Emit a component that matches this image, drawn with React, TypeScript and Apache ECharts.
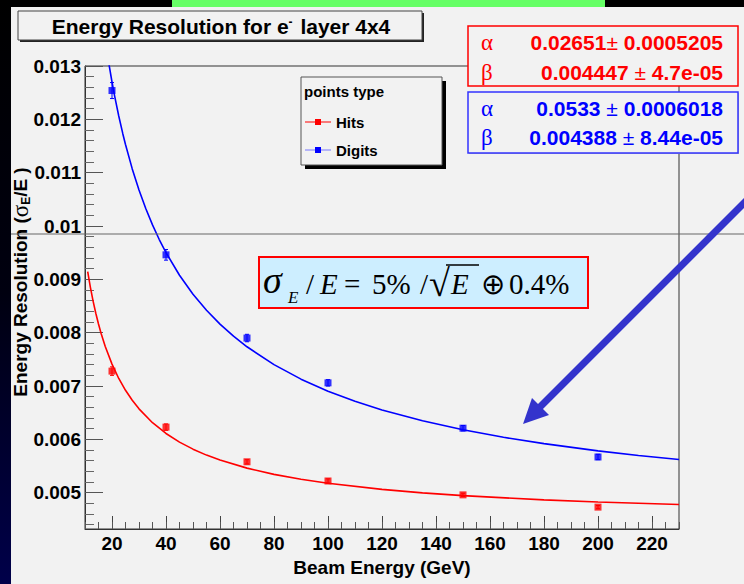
import React, { useEffect, useRef } from 'react';
import * as echarts from 'echarts';

// ---- data ----
const X_TICKS = [20, 40, 60, 80, 100, 120, 140, 160, 180, 200, 220];
const Y_TICKS = [0.005, 0.006, 0.007, 0.008, 0.009, 0.01, 0.011, 0.012, 0.013];
const Y_MINOR = [0.0044, 0.0046, 0.0048, 0.0052, 0.0054, 0.0056, 0.0058, 0.0062, 0.0064, 0.0066, 0.0068,
  0.0072, 0.0074, 0.0076, 0.0078, 0.0082, 0.0084, 0.0086, 0.0088, 0.0092, 0.0094, 0.0096, 0.0098,
  0.0102, 0.0104, 0.0106, 0.0108, 0.0112, 0.0114, 0.0116, 0.0118, 0.0122, 0.0124, 0.0126, 0.0128];

const ENERGY = [20, 40, 70, 100, 150, 200];
const HITS = [0.00728, 0.00623, 0.00558, 0.00522, 0.00496, 0.00473];
const HITS_ERR = [0.00008, 0.00006, 0.00004, 0.00004, 0.00003, 0.00003];
const DIGITS = [0.01254, 0.00946, 0.0079, 0.00706, 0.00621, 0.00567];
const DIGITS_ERR = [0.00015, 0.0001, 0.00007, 0.00006, 0.00005, 0.00005];

// fitted curves
const HITS_FIT_E = [11, 12, 13, 14, 15, 16, 17.5, 20, 22.5, 25, 27.5, 30, 35, 40, 45, 50, 55, 60, 70, 80, 90,
  100, 120, 135, 150, 180, 200, 230];
const HITS_FIT = [0.009147, 0.008851, 0.008593, 0.008365, 0.008163, 0.007981, 0.007742, 0.007411, 0.007142,
  0.00692, 0.006733, 0.006573, 0.006313, 0.006111, 0.005949, 0.005817, 0.005705, 0.005612, 0.005461, 0.005344,
  0.005252, 0.005177, 0.005063, 0.004998, 0.004946, 0.004866, 0.004826, 0.004778];
const DIGITS_FIT_E = [17.5, 18.5, 20, 21, 22.5, 24, 25, 27.5, 30, 32.5, 35, 37.5, 40, 45, 50, 55, 60, 65, 70, 80,
  90, 100, 110, 120, 135, 150, 165, 180, 200, 215, 230];
const DIGITS_FIT = [0.013476, 0.013146, 0.0127, 0.012431, 0.012063, 0.011731, 0.011528, 0.011071, 0.010675,
  0.010328, 0.010021, 0.009747, 0.009502, 0.009077, 0.008722, 0.008421, 0.008161, 0.007935, 0.007736, 0.007401,
  0.007129, 0.006904, 0.006714, 0.006552, 0.006348, 0.00618, 0.006039, 0.00592, 0.005785, 0.005699, 0.005622];

const TITLE = 'Energy Resolution for e';
const TITLE_TAIL = ' layer 4x4';
const X_NAME = 'Beam Energy (GeV)';
const STATS_HITS = [['0.02651', '±', ' 0.0005205'], ['0.004447', ' ± ', '4.7e-05']];
const STATS_DIGITS = [['0.0533', ' ± ', '0.0006018'], ['0.004388', ' ± ', '8.44e-05']];

const SANS = '"Liberation Sans", Arial, Helvetica, sans-serif';
const SERIF = '"Liberation Serif", "Times New Roman", serif';
const RED = '#ff0000';
const BLUE = '#0000ff';

function errItem(color: string) {
  return (params: any, api: any) => {
    const x = api.value(0);
    const y = api.value(1);
    const e = api.value(2);
    const t = api.coord([x, y + e]);
    const b = api.coord([x, y - e]);
    const st = { stroke: color, lineWidth: 1 };
    return {
      type: 'group',
      children: [
        { type: 'line', shape: { x1: t[0], y1: t[1], x2: b[0], y2: b[1] }, style: st },
        { type: 'line', shape: { x1: t[0] - 2, y1: t[1], x2: t[0] + 2, y2: t[1] }, style: st },
        { type: 'line', shape: { x1: b[0] - 2, y1: b[1], x2: b[0] + 2, y2: b[1] }, style: st },
      ],
    };
  };
}

function fmt(v: number) {
  return String(parseFloat(v.toFixed(4)));
}

function statsRows(rows: string[][], color: string, y0: number, dy: number, syms: string[]) {
  const els: any[] = [];
  rows.forEach((r, i) => {
    els.push({
      type: 'text', x: 481, y: y0 + i * dy, z: 110,
      style: { text: syms[i], font: `23px ${SERIF}`, fill: color, verticalAlign: 'middle', align: 'left' },
    });
    els.push({
      type: 'text', x: 723, y: y0 + i * dy, z: 110,
      style: {
        text: `{v|${r[0]}}{p|${r[1]}}{v|${r[2]}}`,
        align: 'right', verticalAlign: 'middle',
        rich: {
          v: { fontFamily: SANS, fontWeight: 'bold', fontSize: 21, fill: color },
          p: { fontFamily: SANS, fontWeight: 'normal', fontSize: 21, fill: color },
        },
      },
    });
  });
  return els;
}

function formula() {
  const base = { fill: '#000', verticalAlign: 'middle', align: 'left' };
  const pieces: [string, number, number, number, boolean][] = [
    ['σ', 263, 280, 38, true],
    ['E', 288, 297, 17, true],
    ['/', 306, 284, 29, false],
    ['E', 320, 284, 29, true],
    ['=', 344, 284, 29, false],
    ['5%', 372, 284, 29, false],
    ['/', 420, 284, 29, false],
    ['√', 429, 283, 38, false],
    ['E', 451, 284, 29, true],
    ['⊕', 481, 284, 29, false],
    ['0.4%', 509, 284, 29, false],
  ];
  const els: any[] = pieces.map(([t, x, y, s, it]) => ({
    type: 'text', x, y, z: 110,
    style: { ...base, text: t, font: `${it ? 'italic ' : ''}${s}px ${SERIF}` },
  }));
  els.push({ type: 'line', z: 110, shape: { x1: 446, y1: 265, x2: 479, y2: 265 }, style: { stroke: '#000', lineWidth: 1.3 } });
  return els;
}

export default function App() {
  const ref = useRef<HTMLDivElement>(null);
  useEffect(() => {
    document.body.style.margin = '0';
    const chart = echarts.init(ref.current!, null, { renderer: 'svg' });
    const option: any = {
      animation: false,
      backgroundColor: '#f2f2f2',
      grid: {
        left: 85, top: 66, width: 594, height: 463, show: true,
        borderColor: '#333', borderWidth: 1, backgroundColor: 'transparent',
        containLabel: false, outerBoundsMode: 'none',
      },
      xAxis: [
        {
          type: 'value', min: 10, max: 230, position: 'bottom',
          axisLine: { show: true, onZero: false, lineStyle: { color: '#333' } },
          axisTick: { show: true, inside: true, length: 13, customValues: X_TICKS, lineStyle: { color: '#444' } },
          axisLabel: { customValues: X_TICKS, margin: 5, fontFamily: SANS, fontWeight: 'bold', fontSize: 19, color: '#000' },
          splitLine: { show: false },
          name: X_NAME, nameLocation: 'middle', nameGap: 27,
          nameTextStyle: { fontFamily: SANS, fontWeight: 'bold', fontSize: 19, color: '#000' },
        },
        {
          type: 'value', min: 10, max: 230, interval: 5, position: 'bottom',
          axisLine: { show: false, onZero: false },
          axisTick: { show: true, inside: true, length: 7, lineStyle: { color: '#555' } },
          axisLabel: { show: false }, splitLine: { show: false },
        },
      ],
      yAxis: [
        {
          type: 'value', min: 0.00432, max: 0.013, position: 'left',
          axisLine: { show: true, onZero: false, lineStyle: { color: '#333' } },
          axisTick: { show: true, inside: true, length: 18, customValues: Y_TICKS, lineStyle: { color: '#555' } },
          axisLabel: {
            customValues: Y_TICKS, margin: 4, fontFamily: SANS, fontWeight: 'bold', fontSize: 19, color: '#000',
            formatter: (v: number) => fmt(v),
          },
          splitLine: { show: false },
        },
        {
          type: 'value', min: 0.00432, max: 0.013, position: 'left',
          axisLine: { show: false, onZero: false },
          axisTick: { show: true, inside: true, length: 9, customValues: Y_MINOR, lineStyle: { color: '#666' } },
          axisLabel: { show: false }, splitLine: { show: false },
        },
      ],
      series: [
        {
          name: 'Hits fit', type: 'line', smooth: false, symbol: 'none', silent: true, z: 3,
          data: HITS_FIT_E.map((e, i) => [e, HITS_FIT[i]]), lineStyle: { color: RED, width: 1.6 },
        },
        {
          name: 'Digits fit', type: 'line', smooth: false, symbol: 'none', silent: true, z: 3,
          data: DIGITS_FIT_E.map((e, i) => [e, DIGITS_FIT[i]]), lineStyle: { color: BLUE, width: 1.6 },
        },
        {
          name: 'Hits err', type: 'custom', z: 4, renderItem: errItem(RED),
          data: ENERGY.map((e, i) => [e, HITS[i], HITS_ERR[i]]),
        },
        {
          name: 'Digits err', type: 'custom', z: 4, renderItem: errItem(BLUE),
          data: ENERGY.map((e, i) => [e, DIGITS[i], DIGITS_ERR[i]]),
        },
        {
          name: 'Hits', type: 'scatter', symbol: 'rect', symbolSize: 7, z: 5,
          itemStyle: { color: RED }, data: ENERGY.map((e, i) => [e, HITS[i]]),
        },
        {
          name: 'Digits', type: 'scatter', symbol: 'rect', symbolSize: 7, z: 5,
          itemStyle: { color: BLUE }, data: ENERGY.map((e, i) => [e, DIGITS[i]]),
        },
      ],
      graphic: [
        // slide background bits
        { type: 'rect', z: 1, shape: { x: 0, y: 0, width: 744, height: 7 }, style: { fill: '#000' } },
        { type: 'rect', z: 2, shape: { x: 172, y: 0, width: 433, height: 7 }, style: { fill: '#66ff66' } },
        {
          type: 'rect', z: 1, shape: { x: 0, y: 0, width: 11, height: 584 },
          style: {
            fill: new echarts.graphic.LinearGradient(0, 0, 0, 1, [
              { offset: 0, color: '#000000' }, { offset: 0.5, color: '#000010' }, { offset: 1, color: '#00004a' },
            ]),
          },
        },
        { type: 'line', z: 60, shape: { x1: 11, y1: 234, x2: 744, y2: 234 }, style: { stroke: '#666', lineWidth: 1 } },
        // title box
        { type: 'rect', z: 100, shape: { x: 20, y: 13, width: 404, height: 29 }, style: { fill: '#222' } },
        { type: 'rect', z: 101, shape: { x: 18, y: 11, width: 404, height: 29 }, style: { fill: '#f2f2f2', stroke: '#444', lineWidth: 1 } },
        {
          type: 'text', x: 221, y: 26, z: 102,
          style: {
            text: `{t|${TITLE}}{s|-}{t|${TITLE_TAIL}}`, align: 'center', verticalAlign: 'middle',
            rich: {
              t: { fontFamily: SANS, fontWeight: 'bold', fontSize: 21, fill: '#000' },
              s: { fontFamily: SANS, fontWeight: 'bold', fontSize: 12, fill: '#000', verticalAlign: 'top', padding: [0, 2, 8, 0] },
            },
          },
        },
        // y axis title
        {
          type: 'text', x: 20, y: 282, rotation: Math.PI / 2, z: 50,
          style: {
            text: '{t|Energy Resolution (}{g|σ}{s|E}{t|/E )}', align: 'center', verticalAlign: 'middle',
            rich: {
              t: { fontFamily: SANS, fontWeight: 'bold', fontSize: 19, fill: '#000' },
              g: { fontFamily: SERIF, fontSize: 23, fill: '#000' },
              s: { fontFamily: SANS, fontWeight: 'bold', fontSize: 12, fill: '#000', verticalAlign: 'bottom', padding: [8, 0, 0, 0] },
            },
          },
        },
        // legend
        { type: 'rect', z: 100, shape: { x: 305, y: 81, width: 141, height: 88 }, style: { fill: '#000' } },
        { type: 'rect', z: 101, shape: { x: 301, y: 77, width: 141, height: 88 }, style: { fill: '#f2f2f2', stroke: '#555', lineWidth: 1 } },
        { type: 'text', x: 304, y: 91, z: 102, style: { text: 'points type', font: `bold 15px ${SANS}`, fill: '#000', verticalAlign: 'middle' } },
        { type: 'line', z: 102, shape: { x1: 305, y1: 122, x2: 331, y2: 122 }, style: { stroke: RED, lineWidth: 1 } },
        { type: 'rect', z: 103, shape: { x: 315, y: 119, width: 6, height: 6 }, style: { fill: RED } },
        { type: 'text', x: 336, y: 122, z: 102, style: { text: 'Hits', font: `bold 15px ${SANS}`, fill: '#000', verticalAlign: 'middle' } },
        { type: 'line', z: 102, shape: { x1: 305, y1: 150, x2: 331, y2: 150 }, style: { stroke: '#7777ff', lineWidth: 1 } },
        { type: 'rect', z: 103, shape: { x: 315, y: 147, width: 6, height: 6 }, style: { fill: BLUE } },
        { type: 'text', x: 336, y: 150, z: 102, style: { text: 'Digits', font: `bold 15px ${SANS}`, fill: '#000', verticalAlign: 'middle' } },
        // stats boxes
        { type: 'rect', z: 100, shape: { x: 468, y: 26, width: 270, height: 60 }, style: { fill: '#f2f2f2', stroke: RED, lineWidth: 1.5 } },
        { type: 'rect', z: 100, shape: { x: 469, y: 93, width: 270, height: 61 }, style: { fill: '#bbb' } },
        { type: 'rect', z: 101, shape: { x: 468, y: 92, width: 270, height: 61 }, style: { fill: '#f2f2f2', stroke: '#3333ff', lineWidth: 1.5 } },
        ...statsRows(STATS_HITS, RED, 42, 30, ['α', 'β']),
        ...statsRows(STATS_DIGITS, BLUE, 108, 29, ['α', 'β']),
        // formula box
        { type: 'rect', z: 105, shape: { x: 259, y: 257, width: 329, height: 51 }, style: { fill: '#cdeeff', stroke: RED, lineWidth: 2 } },
        ...formula(),
        // arrow
        { type: 'line', z: 120, shape: { x1: 760, y1: 187, x2: 540, y2: 407 }, style: { stroke: '#3333cc', lineWidth: 7 } },
        { type: 'polygon', z: 121, shape: { points: [[523, 424], [532, 398], [549, 415]] }, style: { fill: '#3333cc' } },
      ],
    };
    chart.setOption(option);
    return () => chart.dispose();
  }, []);
  return <div ref={ref} style={{ width: 744, height: 584 }} />;
}
